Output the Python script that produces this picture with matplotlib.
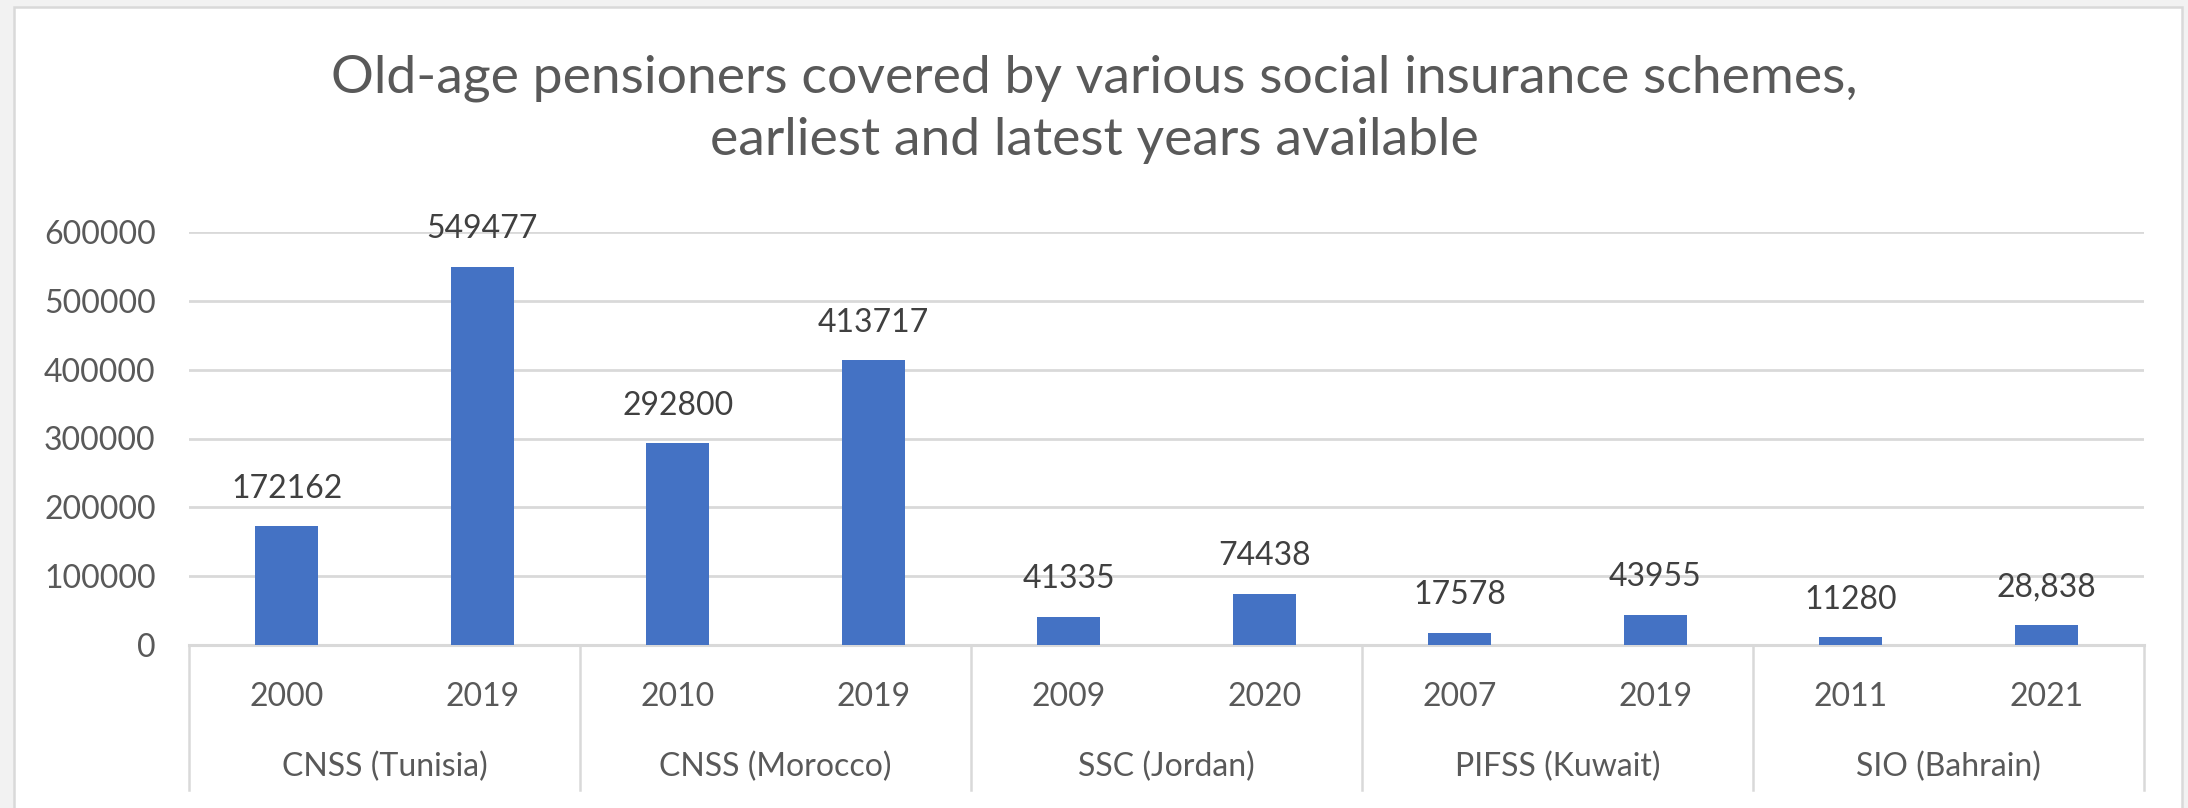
import matplotlib
matplotlib.use("Agg")
import matplotlib.pyplot as plt
from matplotlib.patches import Rectangle
from matplotlib.transforms import blended_transform_factory
from matplotlib.ticker import FuncFormatter, MultipleLocator

# ---- data ----
groups = ["CNSS (Tunisia)", "CNSS (Morocco)", "SSC (Jordan)", "PIFSS (Kuwait)", "SIO (Bahrain)"]
years = ["2000", "2019", "2010", "2019", "2009", "2020", "2007", "2019", "2011", "2021"]
values = [172162, 549477, 292800, 413717, 41335, 74438, 17578, 43955, 11280, 28838]
value_labels = ["172162", "549477", "292800", "413717", "41335", "74438", "17578", "43955", "11280", "28,838"]
title_lines = ["Old-age pensioners covered by various social insurance schemes,",
               "earliest and latest years available"]

W, H = 2188, 808
plt.rcParams['font.family'] = ['Lato', 'DejaVu Sans']

fig = plt.figure(figsize=(W / 100, H / 100), dpi=100)
fig.patch.set_facecolor('#f2f2f2')
fig.add_artist(Rectangle((14 / W, -0.01), (2182 - 14) / W, 1 - 7 / H + 0.01,
                         transform=fig.transFigure, facecolor='white',
                         edgecolor='#d9d9d9', lw=1.8, zorder=0))

ax_left, ax_right, ax_top, ax_bot = 189, 2144, 232, 645
ax = fig.add_axes([ax_left / W, 1 - ax_bot / H, (ax_right - ax_left) / W, (ax_bot - ax_top) / H])
ax.set_facecolor('none')

x = list(range(len(values)))
ax.bar(x, values, width=0.32, color='#4472C4', zorder=3)

ax.set_xlim(-0.5, len(values) - 0.5)
ax.set_ylim(0, 600000)
ax.yaxis.set_major_locator(MultipleLocator(100000))
ax.yaxis.set_major_formatter(FuncFormatter(lambda v, p: f"{int(v)}"))
ax.yaxis.grid(True, color='#d9d9d9', lw=2.0)
ax.set_axisbelow(True)
for s in ax.spines.values():
    s.set_visible(False)

ax.tick_params(axis='y', length=0, pad=24, labelsize=23, labelcolor='#595959')
ax.set_xticks(x, years)
ax.tick_params(axis='x', length=0, pad=27, labelsize=23, labelcolor='#595959')

# category axis line and group separators
ax.axhline(0, color='#d9d9d9', lw=2.2, zorder=2, clip_on=False)
trans = blended_transform_factory(ax.transData, ax.transAxes)
sep_bottom = -(790 - ax_bot) / (ax_bot - ax_top)
n_per = len(values) // len(groups)
for g in range(len(groups) + 1):
    xb = g * n_per - 0.5
    ax.plot([xb, xb], [0, sep_bottom], transform=trans, color='#d9d9d9', lw=1.8, clip_on=False)
grp_y = -(767 - ax_bot) / (ax_bot - ax_top)
for g, name in enumerate(groups):
    ax.text(g * n_per + (n_per - 1) / 2, grp_y, name, transform=trans, ha='center', va='center',
            fontsize=23, color='#595959')

# data labels
for xi, v, lab in zip(x, values, value_labels):
    ax.annotate(lab, (xi, v), xytext=(0, 20.6), textcoords='offset points',
                ha='center', va='baseline', fontsize=23, color='#404040', zorder=4)

# title
fig.text(0.5, 1 - 93 / H, title_lines[0], ha='center', va='baseline', fontsize=38.5, color='#595959')
fig.text(0.5, 1 - 155 / H, title_lines[1], ha='center', va='baseline', fontsize=38.5, color='#595959')

fig.savefig('out.png', dpi=100, facecolor=fig.get_facecolor())
